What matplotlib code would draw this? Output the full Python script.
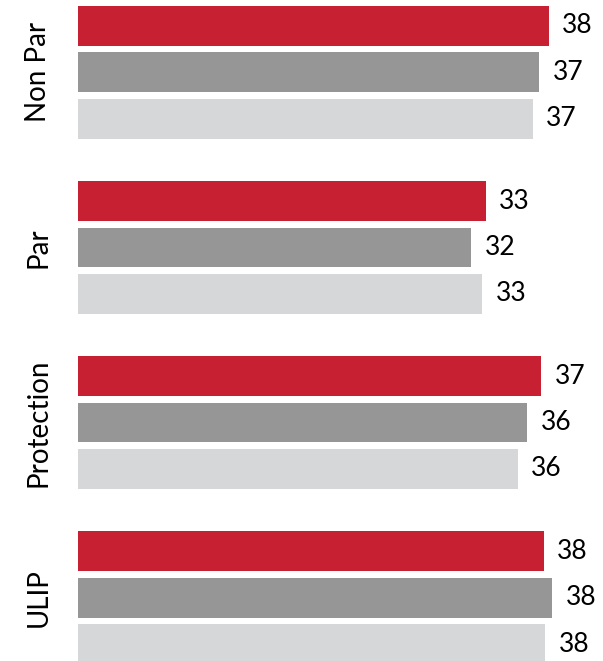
import matplotlib
matplotlib.use("Agg")
import matplotlib.pyplot as plt

categories = ["Non Par", "Par", "Protection", "ULIP"]
series1 = [38.1, 33.0, 37.5, 37.7]   # red
series2 = [37.35, 31.85, 36.35, 38.4]  # dark gray
series3 = [36.8, 32.7, 35.6, 37.8]   # light gray
labels1 = ["38", "33", "37", "38"]
labels2 = ["37", "32", "36", "38"]
labels3 = ["37", "33", "36", "38"]

colors = ["#C82033", "#969696", "#D6D7D9"]
group_pitch = 3.78
bar_h = 0.86

fig = plt.figure(figsize=(6.03, 6.61), dpi=100)
ax = fig.add_axes([78/603, 0, 1 - 78/603, 1])

font = "Lato"
for g, cat in enumerate(categories):
    vals = [series1[g], series2[g], series3[g]]
    labs = [labels1[g], labels2[g], labels3[g]]
    for i, (v, lab) in enumerate(zip(vals, labs)):
        y = g * group_pitch + i
        ax.barh(y, v, height=bar_h, color=colors[i], edgecolor="none")
        ax.text(v + 1.1, y, lab, va="center", ha="left", fontsize=19, family=font, color="black")
    ycen = g * group_pitch + 1
    ax.text(-3.2, ycen, cat, rotation=90, va="center", ha="center", fontsize=20,
            family=font, color="black", clip_on=False)

ax.set_xlim(0, 42.5)
ax.set_ylim(3 * group_pitch + 2 + 17/46.33, -26/46.33)
ax.axis("off")
fig.savefig("out.png", dpi=100)
